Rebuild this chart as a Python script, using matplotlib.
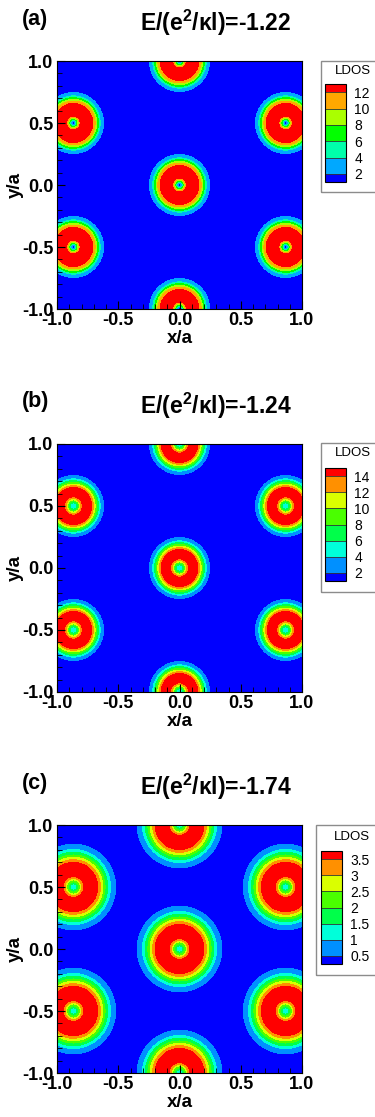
import numpy as np
import matplotlib
matplotlib.use("Agg")
import matplotlib.pyplot as plt
from matplotlib.colors import LinearSegmentedColormap, ListedColormap, BoundaryNorm
from matplotlib.patches import Rectangle
from matplotlib.ticker import MultipleLocator

plt.rcParams['font.family'] = ['Liberation Sans', 'DejaVu Sans']
plt.rcParams['mathtext.fontset'] = 'custom'
plt.rcParams['mathtext.bf'] = 'Liberation Sans:bold'
plt.rcParams['mathtext.rm'] = 'Liberation Sans'
plt.rcParams['axes.unicode_minus'] = False

# ---------------- data ----------------
site_x = [0.0, 0.0, 0.0, -0.866, 0.866, -0.866, 0.866]
site_y = [0.0, 1.0, -1.0, 0.5, 0.5, -0.5, -0.5]

panel_tags = ['(a)', '(b)', '(c)']
energies = ['-1.22', '-1.24', '-1.74']

# radial LDOS profiles (r in units of a)
r_a = [0.0, 0.014, 0.022, 0.030, 0.038, 0.046, 0.055, 0.10, 0.158, 0.177, 0.190, 0.204, 0.218, 0.245, 0.30]
ldos_a = [0.5, 2.0, 4.0, 6.0, 8.0, 10.0, 12.0, 13.5, 12.0, 10.0, 8.0, 6.0, 4.0, 2.0, 0.3]

r_b = [0.0, 0.027, 0.041, 0.049, 0.060, 0.073, 0.11, 0.150, 0.163, 0.177, 0.190, 0.204, 0.218, 0.245, 0.30]
ldos_b = [5.0, 6.0, 8.0, 10.0, 12.0, 14.0, 15.5, 14.0, 12.0, 10.0, 8.0, 6.0, 4.0, 2.0, 0.3]

r_c = [0.0, 0.027, 0.041, 0.057, 0.068, 0.084, 0.14, 0.199, 0.220, 0.240, 0.258, 0.280, 0.302, 0.345, 0.40]
ldos_c = [1.2, 1.5, 2.0, 2.5, 3.0, 3.5, 3.9, 3.5, 3.0, 2.5, 2.0, 1.5, 1.0, 0.5, 0.1]

levels_a = [2, 4, 6, 8, 10, 12]
levels_b = [2, 4, 6, 8, 10, 12, 14]
levels_c = [0.5, 1, 1.5, 2, 2.5, 3, 3.5]
level_labels_a = ['2', '4', '6', '8', '10', '12']
level_labels_b = ['2', '4', '6', '8', '10', '12', '14']
level_labels_c = ['0.5', '1', '1.5', '2', '2.5', '3', '3.5']

tick_vals = [-1.0, -0.5, 0.0, 0.5, 1.0]
tick_labels = ['-1.0', '-0.5', '0.0', '0.5', '1.0']

profiles = [(r_a, ldos_a), (r_b, ldos_b), (r_c, ldos_c)]
levels_all = [levels_a, levels_b, levels_c]
labels_all = [level_labels_a, level_labels_b, level_labels_c]

# ---------------- layout (pixels) ----------------
W, H = 375, 1117
fig = plt.figure(figsize=(W / 100, H / 100), dpi=100)


def px(x0, y0, x1, y1):
    return [x0 / W, 1 - y1 / H, (x1 - x0) / W, (y1 - y0) / H]


ax_tops = [61, 444, 825]
legend_boxes = [(321, 61, 192, 71, 353, (325, 84, 346, 182)),
                (321, 443, 592, 453, 353, (325, 468, 346, 581)),
                (316, 825, 975, 837, 352, (321, 851, 342, 964))]

small_rainbow = LinearSegmentedColormap.from_list(
    'smallrainbow',
    [(0.0, (0, 0, 1)), (0.25, (0, 1, 1)), (0.5, (0, 1, 0)), (0.75, (1, 1, 0)), (1.0, (1, 0, 0))])

grid = np.linspace(-1, 1, 601)
X, Y = np.meshgrid(grid, grid)

for i in range(3):
    top = ax_tops[i]
    off = top - 61
    ax = fig.add_axes(px(57, top, 302, top + 248))

    rr, vv = profiles[i]
    Z = np.zeros_like(X)
    for sx, sy in zip(site_x, site_y):
        R = np.hypot(X - sx, Y - sy)
        Z += np.interp(R, rr, vv, right=0.0)

    levels = levels_all[i]
    nb = len(levels) + 1
    band_colors = [small_rainbow(k / (nb - 1)) for k in range(nb)]
    cmap = ListedColormap(band_colors[1:-1])
    cmap.set_under(band_colors[0])
    cmap.set_over(band_colors[-1])
    norm = BoundaryNorm(levels, cmap.N)
    cf = ax.contourf(X, Y, Z, levels=levels, cmap=cmap, norm=norm, extend='both')

    ax.set_xlim(-1, 1)
    ax.set_ylim(-1, 1)
    ax.set_xticks(tick_vals)
    ax.set_xticklabels(tick_labels)
    ax.set_yticks(tick_vals)
    ax.set_yticklabels(tick_labels)
    ax.xaxis.set_minor_locator(MultipleLocator(0.1))
    ax.yaxis.set_minor_locator(MultipleLocator(0.1))
    ax.tick_params(which='both', direction='in', top=False, right=False, color='black')
    ax.tick_params(which='major', length=6, width=0.8, labelsize=13, pad=2.5)
    ax.tick_params(which='minor', length=3.5, width=0.6)
    for lab in ax.get_xticklabels() + ax.get_yticklabels():
        lab.set_fontweight('bold')
    for sp in ax.spines.values():
        sp.set_linewidth(0.8)
        sp.set_zorder(5)
    ax.set_axisbelow(False)
    ax.set_xlabel('x/a', fontsize=13.5, fontweight='bold', labelpad=0.5)
    ax.set_ylabel('y/a', fontsize=13.5, fontweight='bold', labelpad=-1)

    # titles
    fig.text(22 / W, 1 - (19 + off) / H, panel_tags[i], fontsize=15.5, fontweight='bold',
             ha='left', va='center')
    fig.text(216 / W, 1 - (23 + off) / H, r'E/(e$^{\mathbf{2}}$/κl)=' + energies[i],
             fontsize=16.5, fontweight='bold', ha='center', va='center')

    # legend
    bx0, btop, bbot, ty, tx, cb = legend_boxes[i]
    fig.add_artist(Rectangle((bx0 / W, 1 - bbot / H), (W + 10 - bx0) / W, (bbot - btop) / H,
                             transform=fig.transFigure, fill=False, edgecolor='#8c8c8c',
                             linewidth=1.0))
    fig.text(tx / W, 1 - ty / H, 'LDOS', fontsize=9.5, ha='center', va='center')
    cax = fig.add_axes(px(*cb))
    cbar = fig.colorbar(cf, cax=cax, extendrect=True,
                        extendfrac=0.5 / (len(levels) - 1), drawedges=True)
    cbar.set_ticks(levels, labels=labels_all[i])
    cax.tick_params(length=0, labelsize=10, pad=6)
    cbar.outline.set_linewidth(0.8)
    cbar.dividers.set_linewidth(0.6)
    cbar.dividers.set_color('#333333')

fig.savefig('out.png', dpi=100)
